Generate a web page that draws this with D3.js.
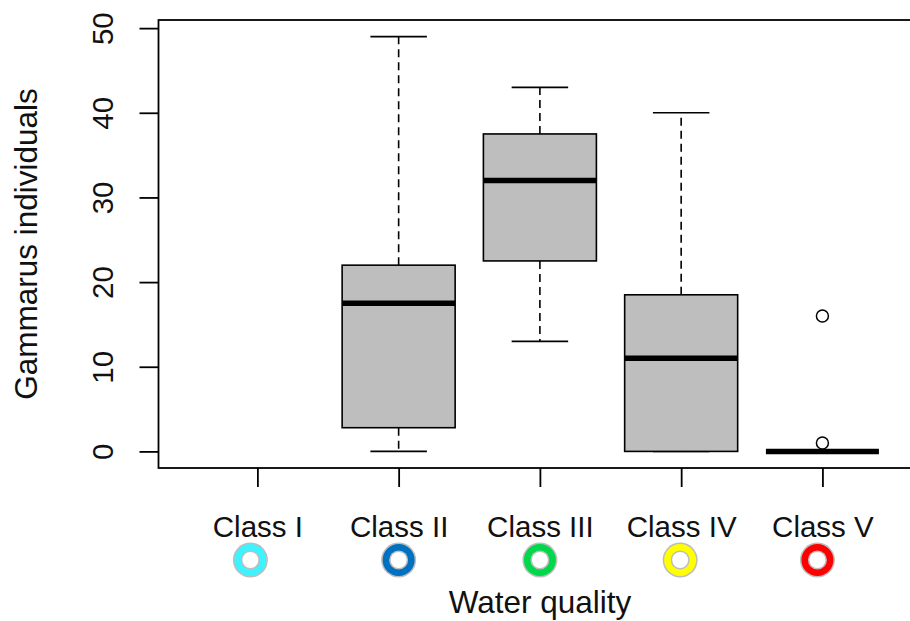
<!DOCTYPE html>
<html>
<head>
<meta charset="utf-8">
<script src="https://cdn.jsdelivr.net/npm/d3@7"></script>
<style>
  body { margin: 0; background: #fff; }
  text { font-family: "Liberation Sans", Arial, sans-serif; fill: #111; }
</style>
</head>
<body>
<div id="chart"></div>
<script>
// données
const classes = ["Class I", "Class II", "Class III", "Class IV", "Class V"];
const classColors = ["#3df3ff", "#0070c0", "#00d84c", "#ffff00", "#ff0000"];
const whiskerLow = [null, 0, 13, 0, 0];
const q1 = [null, 2.8, 22.5, 0, 0];
const median = [null, 17.5, 32, 11, 0];
const q3 = [null, 22, 37.5, 18.5, 0];
const whiskerHigh = [null, 49, 43, 40, 0];
const outliers = [[], [], [], [], [1, 16]];
const yTicks = [0, 10, 20, 30, 40, 50];

const W = 910, H = 621;
const tickFont = 29.5;
const titleFont = 31.5;

const svg = d3.select("#chart").append("svg")
    .attr("width", W)
    .attr("height", H);

// échelles (comme R : xlim 0.5..5.5 étendu de 4 %)
const x = d3.scaleLinear().domain([0.3, 5.7]).range([158.5, 921.3]);
const y = d3.scaleLinear().domain([-1.96, 50.96]).range([468, 20]);

const boxHalf = x(1.4) - x(1);     // largeur de boîte 0.8
const capHalf = boxHalf / 2;

// boîtes
classes.forEach(function(c, i) {
    if (median[i] === null) return;
    const cx = x(i + 1);
    const g = svg.append("g");

    // moustaches
    g.append("line")
        .attr("x1", cx).attr("x2", cx)
        .attr("y1", y(q3[i])).attr("y2", y(whiskerHigh[i]))
        .attr("stroke", "#000").attr("stroke-width", 1.6)
        .attr("stroke-dasharray", "8,5");
    g.append("line")
        .attr("x1", cx).attr("x2", cx)
        .attr("y1", y(q1[i])).attr("y2", y(whiskerLow[i]))
        .attr("stroke", "#000").attr("stroke-width", 1.6)
        .attr("stroke-dasharray", "8,5");
    [whiskerHigh[i], whiskerLow[i]].forEach(function(v) {
        g.append("line")
            .attr("x1", cx - capHalf).attr("x2", cx + capHalf)
            .attr("y1", y(v)).attr("y2", y(v))
            .attr("stroke", "#000").attr("stroke-width", 1.6);
    });

    g.append("rect")
        .attr("x", cx - boxHalf)
        .attr("y", y(q3[i]))
        .attr("width", boxHalf * 2)
        .attr("height", y(q1[i]) - y(q3[i]))
        .attr("fill", "#bebebe")
        .attr("stroke", "#000")
        .attr("stroke-width", 1.6);

    g.append("line")
        .attr("x1", cx - boxHalf).attr("x2", cx + boxHalf)
        .attr("y1", y(median[i])).attr("y2", y(median[i]))
        .attr("stroke", "#000").attr("stroke-width", 5.5);

    outliers[i].forEach(function(v) {
        g.append("circle")
            .attr("cx", cx).attr("cy", y(v)).attr("r", 6)
            .attr("fill", "#fff")
            .attr("stroke", "#000").attr("stroke-width", 1.5);
    });
});

// cadre
svg.append("rect")
    .attr("x", x(0.3)).attr("y", y(50.96))
    .attr("width", x(5.7) - x(0.3))
    .attr("height", y(-1.96) - y(50.96))
    .attr("fill", "none")
    .attr("stroke", "#000")
    .attr("stroke-width", 1.8);

// axe y
const yAxis = svg.append("g")
    .attr("transform", `translate(${x(0.3)},0)`)
    .call(d3.axisLeft(y).tickValues(yTicks).tickSize(19).tickSizeOuter(0));
yAxis.select(".domain").remove();
yAxis.selectAll(".tick line").attr("stroke", "#000").attr("stroke-width", 1.8);
yAxis.selectAll(".tick text")
    .attr("transform", "rotate(-90)")
    .attr("x", 0).attr("y", -45.5).attr("dy", 0)
    .attr("text-anchor", "middle")
    .style("font-size", tickFont + "px")
    .style("font-family", "Liberation Sans, Arial, sans-serif")
    .attr("fill", "#111");

// axe x
const xAxis = svg.append("g")
    .attr("transform", `translate(0,${y(-1.96)})`)
    .call(d3.axisBottom(x).tickValues([1, 2, 3, 4, 5])
        .tickFormat((d, i) => classes[i]).tickSize(19).tickSizeOuter(0));
xAxis.select(".domain").remove();
xAxis.selectAll(".tick line").attr("stroke", "#000").attr("stroke-width", 1.8);
xAxis.selectAll(".tick text")
    .attr("y", 69).attr("dy", 0)
    .style("font-size", tickFont + "px")
    .style("font-family", "Liberation Sans, Arial, sans-serif")
    .attr("fill", "#111");

// pastilles de couleur sous les classes
const iconShift = [-7, 0, 0, -1, -5];
classes.forEach(function(c, i) {
    const g = svg.append("g")
        .attr("transform", `translate(${x(i + 1) + iconShift[i]},560)`);
    g.append("circle").attr("r", 17.5).attr("fill", "#bdbdbd");
    g.append("circle").attr("r", 16).attr("fill", classColors[i]);
    g.append("circle").attr("r", 9.5).attr("fill", "#bdbdbd");
    g.append("circle").attr("r", 8).attr("fill", "#fff");
});

// titres des axes
svg.append("text")
    .attr("x", 540).attr("y", 613)
    .attr("text-anchor", "middle")
    .style("font-size", titleFont + "px")
    .text("Water quality");

svg.append("text")
    .attr("transform", `translate(37,${(y(50.96) + y(-1.96)) / 2}) rotate(-90)`)
    .attr("text-anchor", "middle")
    .style("font-size", titleFont + "px")
    .text("Gammarus individuals");
</script>
</body>
</html>
